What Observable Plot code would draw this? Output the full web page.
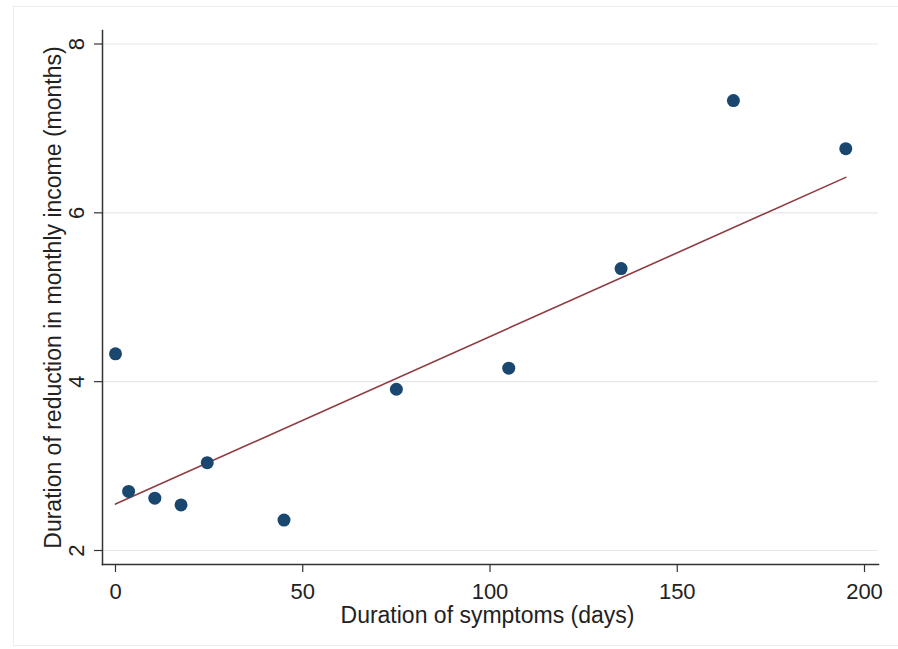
<!DOCTYPE html>
<html>
<head>
<meta charset="utf-8">
<script src="https://cdn.jsdelivr.net/npm/d3@7"></script>
<script src="https://cdn.jsdelivr.net/npm/@observablehq/plot@0.6"></script>
<style>
  html, body { margin: 0; padding: 0; background: #ffffff; }
  #wrap { position: relative; width: 898px; height: 649px; overflow: hidden; }
  #border { position: absolute; left: 13px; top: 6px; width: 890px; height: 640px;
            border: 1px solid #ededed; box-sizing: border-box; }
  #chart { position: absolute; left: 0; top: 0; }
</style>
</head>
<body>
<div id="wrap"><div id="border"></div><div id="chart"></div></div>
<script>
// Data
const symptomDays = [0, 3.5, 10.5, 17.5, 24.5, 45, 75, 105, 135, 165, 195];
const incomeMonths = [4.33, 2.70, 2.62, 2.54, 3.04, 2.36, 3.91, 4.16, 5.34, 7.33, 6.76];
// Fitted line (end points as drawn)
const fitDays = [0, 195];
const fitMonths = [2.55, 6.42];
const xTicks = [0, 50, 100, 150, 200];
const yTicks = [2, 4, 6, 8];
const xTitle = "Duration of symptoms (days)";
const yTitle = "Duration of reduction in monthly income (months)";

const points = symptomDays.map((d, i) => ({x: d, y: incomeMonths[i]}));
const fit = fitDays.map((d, i) => ({x: d, y: fitMonths[i]}));

const chart = Plot.plot({
  width: 898,
  height: 649,
  marginLeft: 102,
  marginRight: 20,
  marginTop: 30,
  marginBottom: 85,
  style: {fontFamily: "'Liberation Sans', Arial, sans-serif", background: "transparent", color: "#222"},
  x: {domain: [0, 200], insetLeft: 13, insetRight: 14, axis: null},
  y: {domain: [2, 8], insetTop: 13.5, insetBottom: 14, axis: null},
  marks: [
    Plot.gridY(yTicks, {stroke: "#e8e8e8", strokeOpacity: 1, strokeWidth: 1.2}),
    Plot.axisY(yTicks, {tickSize: 8, tickPadding: 11, tickRotate: -90, textAnchor: "middle",
      lineAnchor: "bottom", fontSize: 22, stroke: "#333", strokeWidth: 1.2, fill: "#222",
      tickFormat: d => String(d), label: null}),
    Plot.axisX(xTicks, {tickSize: 8, tickPadding: 11, fontSize: 22, stroke: "#333", strokeWidth: 1.2, fill: "#222",
      tickFormat: d => String(d), label: null}),
    Plot.frame({anchor: "left", stroke: "#333", strokeWidth: 1.5}),
    Plot.frame({anchor: "bottom", stroke: "#333", strokeWidth: 1.5}),
    Plot.line(fit, {x: "x", y: "y", stroke: "#8f3b42", strokeWidth: 1.6}),
    Plot.dot(points, {x: "x", y: "y", r: 6.5, fill: "#1a476f", stroke: "none"}),
    Plot.text([xTitle], {text: d => d, frameAnchor: "bottom", dy: 58, dx: -3, lineAnchor: "bottom",
      textAnchor: "middle", fontSize: 23, fill: "#222"}),
    Plot.text([yTitle], {text: d => d, frameAnchor: "left", dx: -42, rotate: -90, lineAnchor: "bottom",
      textAnchor: "middle", fontSize: 23, fill: "#222"})
  ]
});
document.getElementById("chart").appendChild(chart);
</script>
</body>
</html>
